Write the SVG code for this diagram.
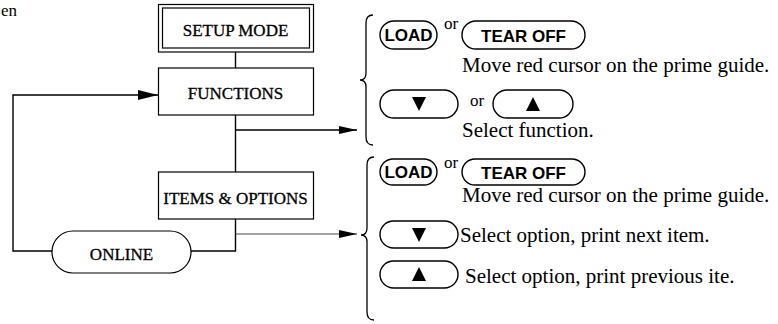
<svg xmlns="http://www.w3.org/2000/svg" width="778" height="324" viewBox="0 0 778 324">
<defs>
<style>
.box{fill:#fff;stroke:#000;stroke-width:1.2}
.lbl{font-family:"Liberation Serif","Times New Roman",serif;font-size:17px;fill:#000;stroke:#000;stroke-width:0.3;text-anchor:middle}
.txt{font-family:"Liberation Serif","Times New Roman",serif;font-size:21px;fill:#000}
.or{font-family:"Liberation Serif","Times New Roman",serif;font-size:17px;fill:#000}
.btn{fill:#fff;stroke:#000;stroke-width:1.4}
.bl{font-family:"Liberation Sans",Arial,sans-serif;font-size:17px;font-weight:bold;fill:#000;text-anchor:middle}
.ln{fill:none;stroke:#000;stroke-width:1.4}
.thin{fill:none;stroke:#333;stroke-width:0.9}
.brace{fill:none;stroke:#000;stroke-width:1.3}
</style>
<marker id="ah" markerWidth="20" markerHeight="10" refX="20" refY="5" orient="auto" markerUnits="userSpaceOnUse">
<path d="M0,0 L20,5 L0,10 Z" fill="#000"/>
</marker>
<marker id="ah2" markerWidth="18" markerHeight="8" refX="18" refY="4" orient="auto" markerUnits="userSpaceOnUse">
<path d="M0,0 L18,4 L0,8 Z" fill="#000"/>
</marker>
</defs>
<rect width="778" height="324" fill="#fff"/>
<text x="1" y="16" font-family="Liberation Serif, serif" font-size="17" fill="#000">en</text>

<g id="connectors">
<line class="ln" x1="235.5" y1="52" x2="235.5" y2="68"/>
<line class="ln" x1="235.5" y1="115" x2="235.5" y2="172"/>
<polyline class="ln" points="235.5,219 235.5,251 191,251"/>
<polyline class="ln" points="52,251 13,251 13,95 158,95" marker-end="url(#ah)"/>
<line class="ln" x1="235.5" y1="130" x2="357" y2="130" marker-end="url(#ah2)"/>
<line class="thin" x1="235.5" y1="234" x2="357" y2="234" marker-end="url(#ah2)"/>
</g>

<g id="setup-mode">
<rect class="box" x="158.5" y="4.5" width="155" height="47.5" stroke-width="1.5"/>
<rect class="box" x="162.5" y="8" width="147" height="40" stroke-width="1"/>
<text class="lbl" x="235.5" y="36">SETUP MODE</text>
</g>
<g id="functions">
<rect class="box" x="158.5" y="68" width="155" height="47"/>
<text class="lbl" x="235.5" y="99">FUNCTIONS</text>
</g>
<g id="items-options">
<rect class="box" x="158.5" y="172" width="155" height="47"/>
<text class="lbl" x="235.5" y="204">ITEMS &amp; OPTIONS</text>
</g>
<g id="online">
<rect class="box" x="52" y="231" width="139" height="42" rx="21"/>
<text class="lbl" x="121.5" y="260">ONLINE</text>
</g>

<g id="functions-keys">
<path class="brace" d="M373,15 Q366,15 366,23 L366,73 Q366,80 360,80 Q366,80 366,87 L366,137 Q366,145 373,145"/>
<rect class="btn" x="380" y="21" width="57" height="28" rx="14"/>
<text class="bl" x="408.5" y="41">LOAD</text>
<text class="or" x="444" y="29">or</text>
<rect class="btn" x="462" y="21" width="123" height="28" rx="14"/>
<text class="bl" x="523.5" y="41.5" font-size="18">TEAR OFF</text>
<text class="txt" x="462" y="72">Move red cursor on the prime guide.</text>
<rect class="btn" x="380" y="90" width="78" height="28" rx="14"/>
<path d="M412,97 L426,97 L419,111 Z" fill="#000"/>
<text class="or" x="470" y="106">or</text>
<rect class="btn" x="493" y="90" width="80" height="28" rx="14"/>
<path d="M526,111 L540,111 L533,97 Z" fill="#000"/>
<text class="txt" x="462" y="137">Select function.</text>
</g>

<g id="items-keys">
<path class="brace" d="M374,157 Q367,157 367,165 L367,228 Q367,235 361,235 Q367,235 367,242 L367,312 Q367,320 374,320"/>
<rect class="btn" x="380" y="159" width="57" height="26" rx="13"/>
<text class="bl" x="408.5" y="178">LOAD</text>
<text class="or" x="444" y="168">or</text>
<rect class="btn" x="462" y="159" width="123" height="26" rx="13"/>
<text class="bl" x="523.5" y="178.5" font-size="18">TEAR OFF</text>
<text class="txt" x="462" y="202">Move red cursor on the prime guide.</text>
<rect class="btn" x="380" y="221" width="78" height="27" rx="13.5"/>
<path d="M412,228 L426,228 L419,242 Z" fill="#000"/>
<text class="txt" x="460" y="242">Select option, print next item.</text>
<rect class="btn" x="380" y="261" width="78" height="27" rx="13.5"/>
<path d="M412,281 L426,281 L419,267 Z" fill="#000"/>
<text class="txt" x="465" y="283">Select option, print previous ite.</text>
</g>
</svg>
